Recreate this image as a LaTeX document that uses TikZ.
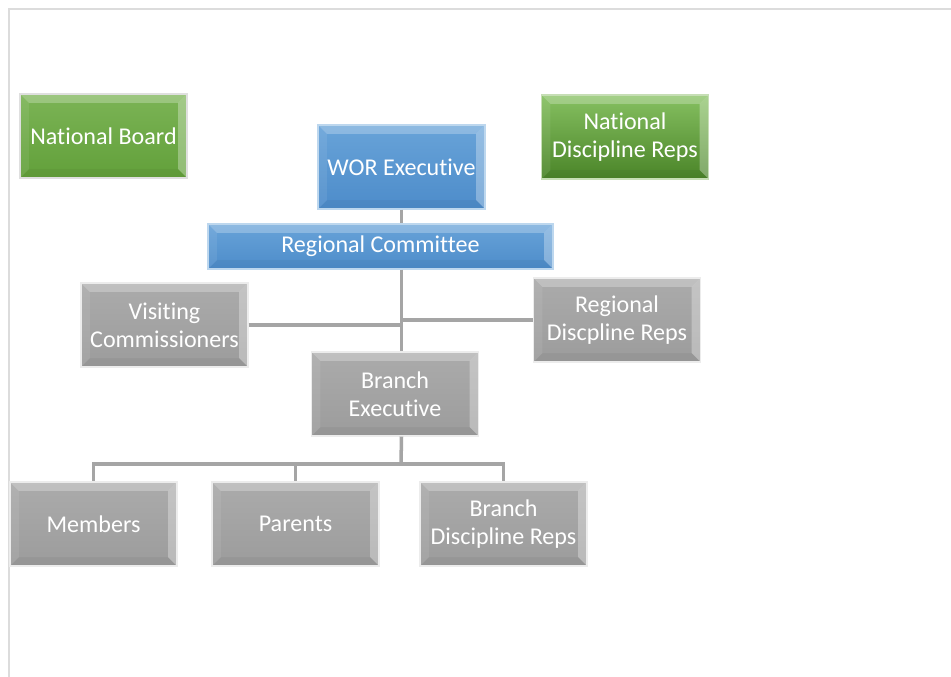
\documentclass[tikz,border=0pt]{standalone}
\usepackage{fontspec}
\setmainfont{Carlito}[RawFeature={-liga;-clig;-calt;-dlig}]

\definecolor{boardgreen}{HTML}{70AD47}
\definecolor{boardgreenlo}{HTML}{62A03A}
\definecolor{repsgreenhi}{HTML}{86C061}
\definecolor{repsgreenlo}{HTML}{4A8428}
\definecolor{execblue}{HTML}{5B9BD5}
\definecolor{execbluelo}{HTML}{4D8CCA}
\definecolor{unitgray}{HTML}{ABABAB}
\definecolor{unitgraylo}{HTML}{9C9C9C}
\definecolor{linkgray}{HTML}{A5A5A5}
\definecolor{framegray}{HTML}{DCDCDC}

\tikzstyle{bevel}=[path picture={
  \fill[white,opacity=0.25] (path picture bounding box.north west) -- (path picture bounding box.north east)
    -- ([xshift=-5pt,yshift=-5pt]path picture bounding box.north east) -- ([xshift=5pt,yshift=-5pt]path picture bounding box.north west) -- cycle;
  \fill[white,opacity=0.08] (path picture bounding box.north west) -- ([xshift=5pt,yshift=-5pt]path picture bounding box.north west)
    -- ([xshift=5pt,yshift=5pt]path picture bounding box.south west) -- (path picture bounding box.south west) -- cycle;
  \fill[white,opacity=0.3] (path picture bounding box.north east) -- ([xshift=-5pt,yshift=-5pt]path picture bounding box.north east)
    -- ([xshift=-5pt,yshift=5pt]path picture bounding box.south east) -- (path picture bounding box.south east) -- cycle;
  \fill[black,opacity=0.04] (path picture bounding box.south west) -- ([xshift=5pt,yshift=5pt]path picture bounding box.south west)
    -- ([xshift=-5pt,yshift=5pt]path picture bounding box.south east) -- (path picture bounding box.south east) -- cycle;
}]
\tikzstyle{orgbox}=[bevel, rectangle, minimum width=3.34cm, minimum height=1.68cm, inner sep=2pt,
  text=white, align=center, font=\fontsize{13.7pt}{16pt}\selectfont, draw=white!75!gray, line width=0.6pt]
\tikzstyle{greenbox}=[orgbox, top color=boardgreen!92!white, bottom color=boardgreenlo]
\tikzstyle{bluebox}=[orgbox, top color=execblue!92!white, bottom color=execbluelo, draw=execblue!40!white]
\tikzstyle{graybox}=[orgbox, top color=unitgray, bottom color=unitgraylo, draw=white!85!gray]
\tikzstyle{link}=[linkgray, line width=2pt]

\begin{document}
\begin{tikzpicture}
\useasboundingbox (0,0) rectangle (19.02,-13.54);
\fill [white] (0,0) rectangle (19.02,-13.54);
\draw [framegray, line width=1.2pt] (0.18,-13.54) -- (0.18,-0.18) -- (19.02,-0.18);

% top level
\node[greenbox] (natboard) at (2.07,-2.72) {National Board};
\node[bluebox] (worexec) at (8.03,-3.34) {WOR Executive};
\node[orgbox, top color=repsgreenhi, bottom color=repsgreenlo, draw=boardgreen!40!white] (natreps) at (12.5,-2.74) {National\\Discipline Reps};
\node[bluebox, minimum width=6.9cm, minimum height=0.9cm] (regcom) at (7.61,-4.93) {Regional Committee};

% region
\node[graybox] (visit) at (3.29,-6.5) {Visiting\\Commissioners};
\node[graybox] (regreps) at (12.34,-6.4) {Regional\\Discpline Reps};
\node[graybox] (branchexec) at (7.9,-7.88) {Branch\\Executive};

% branch
\node[graybox] (members) at (1.87,-10.48) {Members};
\node[graybox] (parents) at (5.91,-10.48) {Parents};
\node[graybox] (branchreps) at (10.07,-10.48) {Branch\\Discipline Reps};

% connectors
\coordinate (bus) at (8.02,-9.28);
\draw[link] (worexec.south) -- (worexec.south |- regcom.north);
\draw[link] (worexec.south |- regcom.south) -- (worexec.south |- branchexec.north);
\draw[link] (visit.east) -- (visit.east -| worexec.south);
\draw[link] (regreps.west) -- (regreps.west -| worexec.south);
\draw[link] (worexec.south |- branchexec.south) -- (bus);
\draw[link] (bus) -| (members.north);
\draw[link] (bus) -| (parents.north);
\draw[link] (bus) -| (branchreps.north);
\end{tikzpicture}
\end{document}
